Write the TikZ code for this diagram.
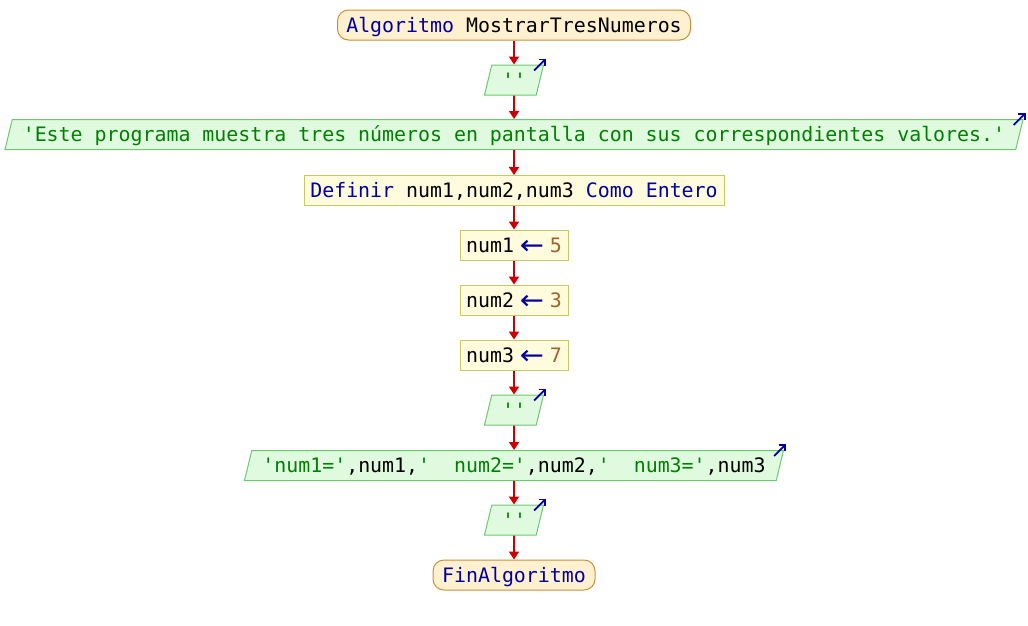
\documentclass[tikz,border=0pt]{standalone}
\usepackage{fontspec}
\usepackage{graphicx}
\newfontfamily\psfont{DejaVu Sans Mono}
\newfontfamily\symfont{DejaVu Sans}
\usetikzlibrary{shapes.geometric,arrows.meta}
\definecolor{kwblue}{RGB}{0,0,160}
\definecolor{strgreen}{RGB}{0,128,0}
\definecolor{numbrown}{RGB}{160,100,40}
\definecolor{termfill}{RGB}{255,240,208}
\definecolor{termline}{RGB}{200,144,56}
\definecolor{procfill}{RGB}{255,252,222}
\definecolor{procline}{RGB}{200,200,100}
\definecolor{iofill}{RGB}{224,250,224}
\definecolor{ioline}{RGB}{110,200,110}
\definecolor{flowred}{RGB}{204,0,0}
\newcommand{\kw}[1]{\textcolor{kwblue}{#1}}
\newcommand{\str}[1]{\textcolor{strgreen}{#1}}
\newcommand{\nm}[1]{\textcolor{numbrown}{#1}}
% assignment arrow, a little wider than one character cell
\newcommand{\asg}{\makebox[12pt][c]{\raisebox{-2pt}{\kw{\symfont\scalebox{1.45}[1.35]{←}}}}}
\begin{document}
\begin{tikzpicture}[x=1pt,y=-1pt,
  every node/.style={font=\psfont\fontsize{19.9}{24}\selectfont, inner sep=0pt,
    text height=16pt, text depth=2pt, line width=1pt},
  terminal/.style={draw=termline, fill=termfill, rounded corners=11pt, minimum height=30pt},
  process/.style={rectangle, draw=procline, fill=procfill, minimum height=30pt},
  io/.style={trapezium, trapezium left angle=68, trapezium right angle=112,
    trapezium stretches body, draw=ioline, fill=iofill, minimum height=30pt, text=strgreen},
  flow/.style={draw=flowred, line width=2pt, -{Triangle[length=8pt,width=10pt]}},
  outmark/.style={draw=kwblue, line width=1.7pt, -{Straight Barb[length=4.5pt,width=9pt]}}
]
\useasboundingbox (0,0) rectangle (1028,625);

% flowchart shapes, top to bottom
\node[terminal, minimum width=353pt] (start) at (514,25) {\kw{Algoritmo} MostrarTresNumeros};
\node[io, minimum width=59pt] (out1) at (514,80) {''};
\node[io, minimum width=1018pt] (msg) at (514,134.5) {'Este programa muestra tres números en pantalla con sus correspondientes valores.'};
\node[process, minimum width=420pt] (def) at (514,190.5) {\kw{Definir} num1,num2,num3 \kw{Como} \kw{Entero}};
\node[process, minimum width=108pt] (a1) at (514,245) {num1 \asg{} \nm{5}};
\node[process, minimum width=108pt] (a2) at (514,300) {num2 \asg{} \nm{3}};
\node[process, minimum width=108pt] (a3) at (514,355) {num3 \asg{} \nm{7}};
\node[io, minimum width=59pt] (out2) at (514,410) {''};
\node[io, minimum width=539pt] (res) at (514,465.5) {'num1='\textcolor{black}{,num1,}'\ \ num2='\textcolor{black}{,num2,}'\ \ num3='\textcolor{black}{,num3}};
\node[io, minimum width=59pt] (out3) at (514,520) {''};
\node[terminal, minimum width=162pt] (stop) at (514,575) {\kw{FinAlgoritmo}};

% control flow
\draw[flow] (start) -- (out1);
\draw[flow] (out1) -- (msg);
\draw[flow] (msg) -- (def);
\draw[flow] (def) -- (a1);
\draw[flow] (a1) -- (a2);
\draw[flow] (a2) -- (a3);
\draw[flow] (a3) -- (out2);
\draw[flow] (out2) -- (res);
\draw[flow] (res) -- (out3);
\draw[flow] (out3) -- (stop);

% output markers on the write blocks
\foreach \n in {out1,msg,out2,res,out3}
  \draw[outmark] ([shift={(-10,6)}]\n.top right corner) -- ++(12,-12);
\end{tikzpicture}
\end{document}
